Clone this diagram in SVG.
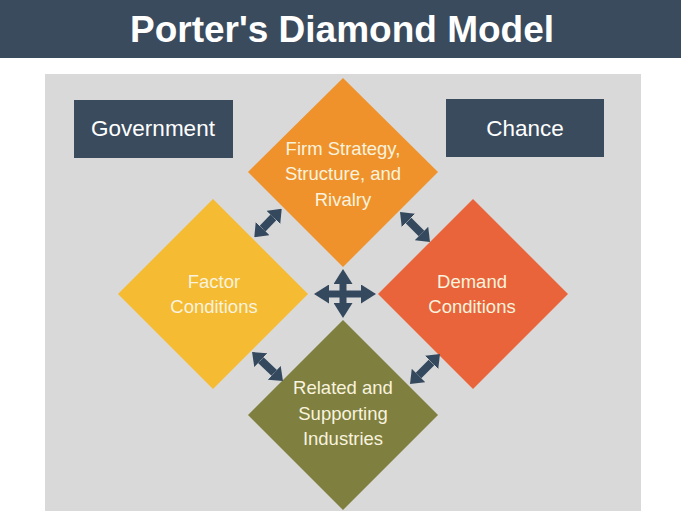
<svg xmlns="http://www.w3.org/2000/svg" width="681" height="511" viewBox="0 0 681 511">
<style>
.dtxt{font-family:"Liberation Sans",Arial,sans-serif;font-size:18.5px;fill:#f8f3de;text-anchor:middle}
.btxt{font-family:"Liberation Sans",Arial,sans-serif;font-size:22.5px;fill:#ffffff;text-anchor:middle}
.box{fill:#3a4b5e}
.conn{stroke:#34495e;stroke-width:7;fill:none}
.dconn{stroke:#34495e;stroke-width:8;fill:none}
</style>
<defs>
<marker id="hbig" markerUnits="userSpaceOnUse" markerWidth="15" markerHeight="19" viewBox="0 0 15 19" refX="0" refY="9.5" orient="auto-start-reverse"><path d="M0,0 L15,9.5 L0,19 z" fill="#34495e"/></marker>
<marker id="hsm" markerUnits="userSpaceOnUse" markerWidth="12" markerHeight="19" viewBox="0 0 12 19" refX="0" refY="9.5" orient="auto-start-reverse"><path d="M0,0 L12,9.5 L0,19 z" fill="#34495e"/></marker>
</defs>
<rect x="0" y="0" width="681" height="511" fill="#ffffff"/>
<g id="header">
<rect x="0" y="0" width="681" height="58" fill="#3a4b5e"/>
<text x="342" y="42" font-family="Liberation Sans,Arial,sans-serif" font-size="37" font-weight="bold" fill="#ffffff" text-anchor="middle">Porter's Diamond Model</text>
</g>
<rect x="45" y="74" width="596" height="437" fill="#d9d9d9"/>
<g id="government"><rect class="box" x="74" y="100" width="159" height="58"/><text class="btxt" x="153" y="136">Government</text></g>
<g id="chance"><rect class="box" x="446" y="99" width="158" height="58"/><text class="btxt" x="525" y="136">Chance</text></g>
<g id="firm"><polygon points="343,78 438,172 343,267 248,172" fill="#f0922b"/>
<text class="dtxt" x="343" y="155">Firm Strategy,</text><text class="dtxt" x="343" y="180">Structure, and</text><text class="dtxt" x="343" y="206">Rivalry</text></g>
<g id="factor"><polygon points="213,199 308,294 213,389 118,294" fill="#f5bb33"/>
<text class="dtxt" x="214" y="288">Factor</text><text class="dtxt" x="214" y="313">Conditions</text></g>
<g id="demand"><polygon points="473,199 568,294 473,389 378,294" fill="#e9643a"/>
<text class="dtxt" x="472" y="288">Demand</text><text class="dtxt" x="472" y="313">Conditions</text></g>
<g id="related"><polygon points="343,320 438,415 343,510 248,415" fill="#7f7f3f"/>
<text class="dtxt" x="343" y="394">Related and</text><text class="dtxt" x="343" y="420">Supporting</text><text class="dtxt" x="343" y="445">Industries</text></g>
<g id="connectors">
<line class="conn" x1="329" y1="294" x2="361" y2="294" marker-start="url(#hbig)" marker-end="url(#hbig)"/>
<line class="conn" x1="343" y1="284" x2="343" y2="303" marker-start="url(#hbig)" marker-end="url(#hbig)"/>
<line class="dconn" x1="262.6" y1="228.6" x2="273.4" y2="217.4" marker-start="url(#hsm)" marker-end="url(#hsm)"/>
<line class="dconn" x1="408.5" y1="220.5" x2="421.5" y2="233.5" marker-start="url(#hsm)" marker-end="url(#hsm)"/>
<line class="dconn" x1="260.8" y1="360.2" x2="274.2" y2="372.8" marker-start="url(#hsm)" marker-end="url(#hsm)"/>
<line class="dconn" x1="418.5" y1="375.5" x2="431.5" y2="362.5" marker-start="url(#hsm)" marker-end="url(#hsm)"/>
</g>
</svg>
